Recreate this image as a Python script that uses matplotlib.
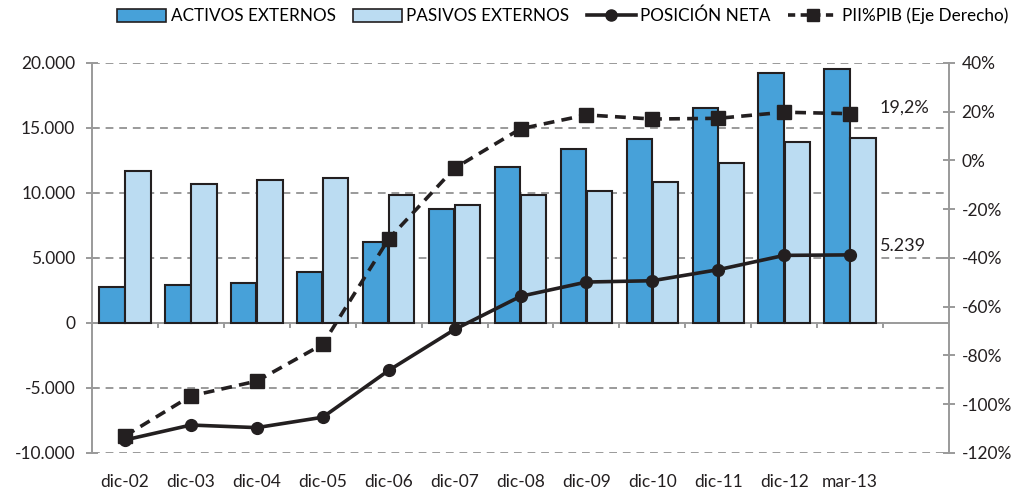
import matplotlib
matplotlib.use("Agg")
import matplotlib.pyplot as plt
import numpy as np
from matplotlib.patches import Patch
from matplotlib.lines import Line2D
from matplotlib.ticker import FuncFormatter

plt.rcParams['font.family'] = ['Lato', 'DejaVu Sans']

categories = ['dic-02', 'dic-03', 'dic-04', 'dic-05', 'dic-06', 'dic-07',
              'dic-08', 'dic-09', 'dic-10', 'dic-11', 'dic-12', 'mar-13']
activos = [2750, 2950, 3080, 3950, 6200, 8770, 12000, 13380, 14150, 16540, 19200, 19540]
pasivos = [11670, 10720, 11030, 11150, 9870, 9100, 9850, 10180, 10820, 12310, 13950, 14260]
posicion_neta = [-9000, -7850, -8050, -7250, -3650, -500, 2050, 3150, 3250, 4100, 5200, 5239]
pii_pib = [-113.0, -96.6, -90.5, -75.4, -32.2, -3.2, 13.0, 18.7, 17.0, 17.3, 19.8, 19.2]

c_act = '#47A1D9'
c_pas = '#BBDCF2'
c_edge = '#231F20'
c_grid = '#9A9A9A'

fig = plt.figure(figsize=(10.19, 4.92), dpi=100)
ax = fig.add_axes([0.0903, 0.0793, 0.8410, 0.7927])
ax2 = ax.twinx()

x = np.arange(len(categories))
w = 0.385
ax.bar(x - w / 2 - 0.005, activos, w, color=c_act, edgecolor=c_edge, linewidth=1.5, zorder=3)
ax.bar(x + w / 2 + 0.005, pasivos, w, color=c_pas, edgecolor=c_edge, linewidth=1.5, zorder=3)
ax.plot(x, posicion_neta, color=c_edge, linewidth=2.6, marker='o', markersize=8.5, zorder=5)
ax2.plot(x, pii_pib, color=c_edge, linewidth=2.6, linestyle=(0, (3, 2)), marker='s',
         markersize=10, zorder=5)

ax.set_xlim(-0.5, 12.5)
ax.set_ylim(-10000, 20000)
ax2.set_ylim(-120, 40)

ax.set_yticks(np.arange(-10000, 20001, 5000))
ax.yaxis.set_major_formatter(FuncFormatter(lambda v, p: f"{int(v):,}".replace(',', '.')))
ax2.set_yticks(np.arange(-120, 41, 20))
ax2.yaxis.set_major_formatter(FuncFormatter(lambda v, p: f"{int(v)}%"))

for yv in [-10000, -5000, 5000, 10000, 15000, 20000]:
    ax.axhline(yv, color=c_grid, linewidth=1.4, linestyle=(0, (4, 3)), zorder=1)
ax.axhline(0, color=c_grid, linewidth=1.4, zorder=2)

ax.set_xticks(x)
ax.set_xticklabels(categories)
ax.tick_params(axis='x', length=0, pad=15)

# boundary ticks hanging below the zero line
for b in np.arange(0.5, 12.6, 1):
    ax.plot([b, b], [0, -330], color=c_grid, linewidth=1.4, zorder=2, clip_on=False)

for sp in ['top', 'right', 'bottom']:
    ax.spines[sp].set_visible(False)
for sp in ['top', 'left', 'bottom']:
    ax2.spines[sp].set_visible(False)
ax.spines['left'].set_color(c_grid)
ax.spines['left'].set_linewidth(1.4)
ax2.spines['right'].set_color(c_grid)
ax2.spines['right'].set_linewidth(1.4)
ax.tick_params(axis='y', color=c_grid, width=1.4, length=8, direction='inout',
               labelsize=12.5, pad=8)
ax2.tick_params(axis='y', color=c_grid, width=1.4, length=8, direction='inout',
                labelsize=12.5, pad=5)
ax.tick_params(axis='x', labelsize=12.5)
for t in ax.get_yticklabels() + ax2.get_yticklabels() + ax.get_xticklabels():
    t.set_color('#231F20')

ax.patch.set_visible(False)
ax2.patch.set_visible(False)

ax2.text(11.45, pii_pib[-1] + 2.5, '19,2%', fontsize=13, color='#231F20', va='center', ha='left')
ax.text(11.45, posicion_neta[-1] + 700, '5.239', fontsize=13, color='#231F20', va='center', ha='left')

handles = [
    Patch(facecolor=c_act, edgecolor=c_edge, linewidth=1.2),
    Patch(facecolor=c_pas, edgecolor=c_edge, linewidth=1.2),
    Line2D([0], [0], color=c_edge, linewidth=2.6, marker='o', markersize=8),
    Line2D([0], [0], color=c_edge, linewidth=2.6, linestyle=(0, (2, 1.5)), marker='s', markersize=9),
]
labels = ['ACTIVOS EXTERNOS', 'PASIVOS EXTERNOS', 'POSICIÓN NETA', 'PII%PIB (Eje Derecho)']
fig.legend(handles, labels, loc='upper center', bbox_to_anchor=(0.552, 1.012), ncol=4,
           frameon=False, fontsize=12.3, handlelength=2.9, handleheight=0.75,
           columnspacing=1.0, handletextpad=0.25, borderpad=0.3)

fig.savefig('out.png', dpi=100)
